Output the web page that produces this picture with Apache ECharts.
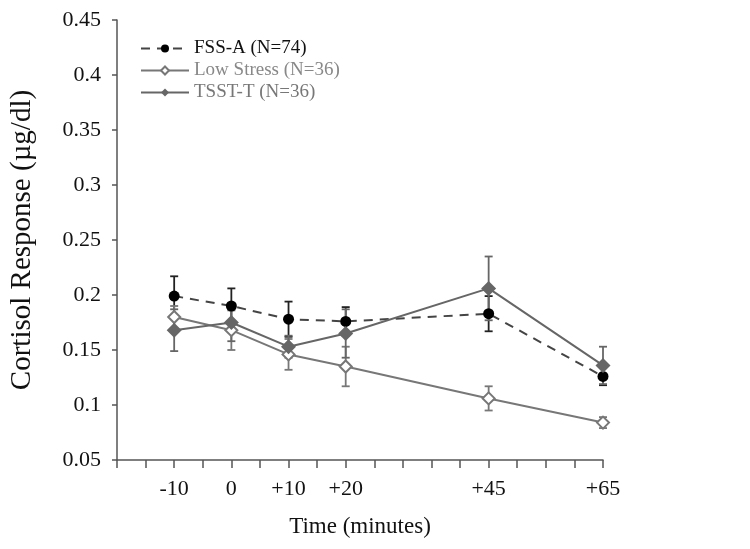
<!DOCTYPE html>
<html><head><meta charset="utf-8">
<script src="https://cdn.jsdelivr.net/npm/echarts@6/dist/echarts.min.js"></script>
<style>html,body{margin:0;padding:0;background:#fff}#c{width:750px;height:549px}</style>
</head><body><div id="c"></div>
<script>
const times = [-10, 0, 10, 20, 45, 65];
const xTickLabels = [-10, 0, 10, 20, 45, 65];
const fssA = [0.199, 0.190, 0.178, 0.176, 0.183, 0.126];
const fssAErr = [0.018, 0.016, 0.016, 0.013, 0.016, 0.008];
const lowStress = [0.180, 0.168, 0.146, 0.135, 0.106, 0.084];
const lowStressErr = [0.010, 0.018, 0.014, 0.018, 0.011, 0.005];
const tsstT = [0.168, 0.175, 0.153, 0.165, 0.206, 0.136];
const tsstTErr = [0.019, 0.017, 0.010, 0.022, 0.029, 0.017];
const names = ['FSS-A (N=74)', 'Low Stress (N=36)', 'TSST-T (N=36)'];

const font = '"Liberation Serif", "DejaVu Serif", serif';
function pts(vals){ return times.map((t,i)=>[t, vals[i]]); }
function errData(vals, errs){ return times.map((t,i)=>[t, vals[i]-errs[i], vals[i]+errs[i]]); }
function errSeries(vals, errs, color){
  return {
    type:'custom', silent:true, z:1,
    data: errData(vals, errs),
    renderItem: function(params, api){
      const x = api.value(0);
      const lo = api.coord([x, api.value(1)]);
      const hi = api.coord([x, api.value(2)]);
      const w = 4;
      const st = {stroke: color, lineWidth: 1.8};
      return {type:'group', children:[
        {type:'line', shape:{x1:lo[0], y1:lo[1], x2:hi[0], y2:hi[1]}, style:st},
        {type:'line', shape:{x1:lo[0]-w, y1:lo[1], x2:lo[0]+w, y2:lo[1]}, style:st},
        {type:'line', shape:{x1:hi[0]-w, y1:hi[1], x2:hi[0]+w, y2:hi[1]}, style:st}
      ]};
    }
  };
}
const chart = echarts.init(document.getElementById('c'));
chart.setOption({
  animation:false,
  backgroundColor:'#fff',
  grid:{left:114, right:147, top:20, bottom:89, containLabel:false},
  legend:{
    left:135, top:34, orient:'vertical', itemGap:3, itemWidth:48, itemHeight:10,
    textStyle:{fontFamily:font, fontSize:19},
    data:[
      {name:names[0], textStyle:{color:'#111'}},
      {name:names[1], textStyle:{color:'#888'}},
      {name:names[2], textStyle:{color:'#777'}}
    ]
  },
  xAxis:{
    type:'value', min:-20, max:65, interval:5,
    name:'Time (minutes)', nameLocation:'middle', nameGap:55,
    nameTextStyle:{fontFamily:font, fontSize:23, color:'#111'},
    axisLine:{lineStyle:{color:'#555', width:1.5}},
    axisTick:{length:8, lineStyle:{color:'#555', width:1.5}},
    splitLine:{show:false},
    axisLabel:{fontFamily:font, fontSize:22, color:'#111', margin:18,
      formatter:function(v){ if(xTickLabels.indexOf(v)<0) return ''; return v>0 ? '+'+v : String(v); }}
  },
  yAxis:{
    type:'value', min:0.05, max:0.45, interval:0.05,
    name:'Cortisol Response (µg/dl)', nameLocation:'middle', nameGap:80,
    nameTextStyle:{fontFamily:font, fontSize:29, color:'#111'},
    axisLine:{show:true, onZero:false, lineStyle:{color:'#555', width:1.5}},
    axisTick:{show:true, length:5, lineStyle:{color:'#555', width:1.5}},
    splitLine:{show:false},
    axisLabel:{fontFamily:font, fontSize:22, color:'#111', margin:16,
      formatter:function(v){ return String(Math.round(v*100)/100); }}
  },
  series:[
    errSeries(fssA, fssAErr, '#222'),
    errSeries(lowStress, lowStressErr, '#777'),
    errSeries(tsstT, tsstTErr, '#666'),
    {name:names[0], type:'line', data:pts(fssA), z:3, symbol:'circle', symbolSize:11,
      lineStyle:{color:'#444', width:2, type:[9,7]}, itemStyle:{color:'#000'}},
    {name:names[1], type:'line', data:pts(lowStress), z:3, symbol:'emptyDiamond', symbolSize:12,
      lineStyle:{color:'#777', width:2}, itemStyle:{color:'#777', borderColor:'#777', borderWidth:2}},
    {name:names[2], type:'line', data:pts(tsstT), z:4, symbol:'diamond', symbolSize:15,
      lineStyle:{color:'#666', width:2}, itemStyle:{color:'#666'}}
  ]
});
</script></body></html>
